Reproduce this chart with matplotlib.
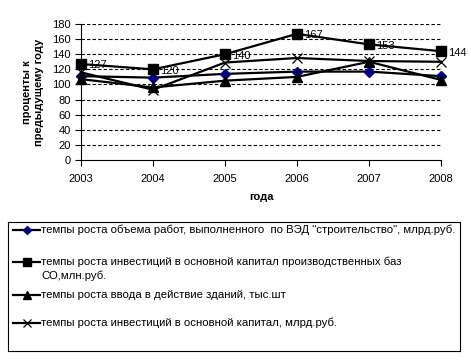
import matplotlib
matplotlib.use("Agg")
import matplotlib.pyplot as plt
from matplotlib.lines import Line2D

plt.rcParams['font.family'] = ['Liberation Sans', 'DejaVu Sans']

years = [2003, 2004, 2005, 2006, 2007, 2008]
s_volume = [111, 109, 114, 117, 117, 111]
s_invest_base = [127, 120, 140, 167, 153, 144]
s_buildings = [107, 96, 105, 110, 130, 106]
s_invest = [116, 93, 129, 135, 131, 130]
labels = [
    'темпы роста объема работ, выполненного  по ВЭД "строительство", млрд.руб.',
    'темпы роста инвестиций в основной капитал производственных баз\nСО,млн.руб.',
    'темпы роста ввода в действие зданий, тыс.шт',
    'темпы роста инвестиций в основной капитал, млрд.руб.',
]
yticks = list(range(0, 181, 20))

W, H = 471, 361
fig = plt.figure(figsize=(W / 100, H / 100), dpi=100)

def px(x0, y0, x1, y1):
    return [x0 / W, 1 - y1 / H, (x1 - x0) / W, (y1 - y0) / H]

ax = fig.add_axes(px(81, 24, 441, 160))
ax.set_xlim(years[0], years[-1])
ax.set_ylim(0, 180)
ax.set_yticks(yticks)
ax.set_xticks(years)
for y in yticks[1:]:
    ax.axhline(y, color='black', linestyle=(0, (3, 2)), linewidth=0.8, zorder=1)
for sp in ['top', 'right']:
    ax.spines[sp].set_visible(False)
ax.spines['left'].set_linewidth(0.8)
ax.spines['bottom'].set_linewidth(0.8)
ax.tick_params(axis='both', direction='out', length=4, width=0.8, labelsize=8)
ax.tick_params(axis='x', pad=6)

styles = [
    dict(marker='D', markersize=5, markerfacecolor='#000080', markeredgecolor='#000080'),
    dict(marker='s', markersize=7, markerfacecolor='black', markeredgecolor='black'),
    dict(marker='^', markersize=7, markerfacecolor='black', markeredgecolor='black'),
    dict(marker='x', markersize=7, markeredgecolor='black', markeredgewidth=0.9),
]
series = [s_volume, s_invest_base, s_buildings, s_invest]
for s, st in zip(series, styles):
    ax.plot(years, s, color='black', linewidth=1.6, clip_on=False, zorder=4, **st)

for x, v in zip(years, s_invest_base):
    ax.annotate(str(v), (x, v), xytext=(5, -1), textcoords='offset points',
                fontsize=8, va='center', ha='left', zorder=3,
                annotation_clip=False)

ax.set_ylabel('проценты к\nпредыдущему году', fontsize=8, fontweight='bold', labelpad=6)
ax.set_xlabel('года', fontsize=8, fontweight='bold', labelpad=6)

# legend box
lax = fig.add_axes(px(8, 222, 460, 351))
lax.set_xlim(8, 460)
lax.set_ylim(351, 222)
lax.set_xticks([])
lax.set_yticks([])
for sp in lax.spines.values():
    sp.set_linewidth(0.8)
rows = [230, 262, 295, 323]
fs = 8.2
for yy, st, lab in zip(rows, styles, labels):
    st2 = dict(st)
    st2['markersize'] = st['markersize'] * 0.85
    lax.add_line(Line2D([13, 26.5, 40], [yy, yy, yy], color='black', linewidth=1.6,
                        markevery=[1], **st2))
    if '\n' in lab:
        first, second = lab.split('\n')
        lax.text(41, yy, first, fontsize=fs, va='center', ha='left')
        lax.text(41, yy + 14, second, fontsize=fs, va='center', ha='left')
    else:
        lax.text(41, yy, lab, fontsize=fs, va='center', ha='left')

fig.savefig('out.png', dpi=100)
